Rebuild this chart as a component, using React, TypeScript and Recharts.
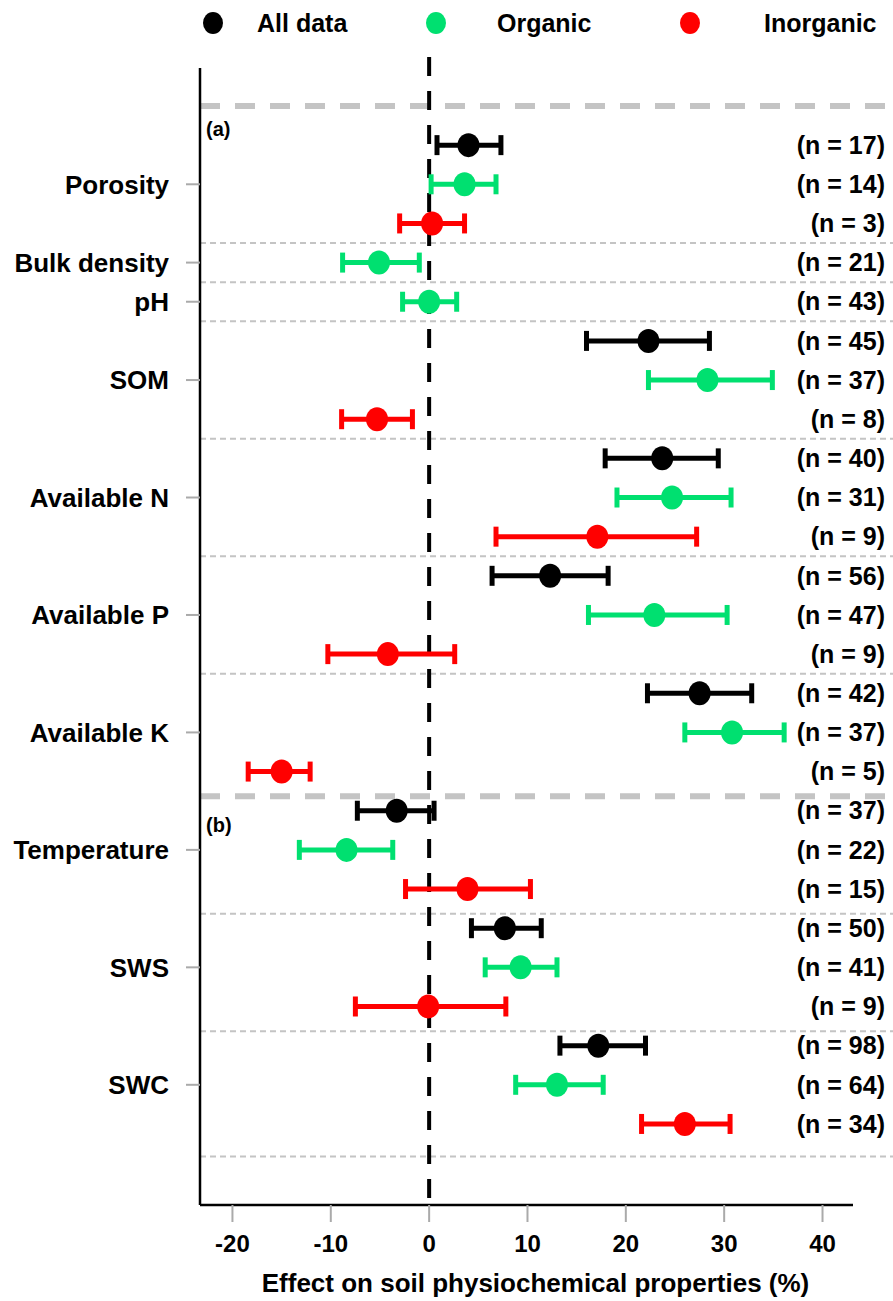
import {
  ErrorBar,
  Legend,
  ReferenceLine,
  Scatter,
  ScatterChart,
  XAxis,
  YAxis,
} from "recharts";

const properties = [
  "Porosity",
  "Bulk density",
  "pH",
  "SOM",
  "Available N",
  "Available P",
  "Available K",
  "Temperature",
  "SWS",
  "SWC",
];

// mean effect (%) with lower / upper CI, null where a group has no data
const allMean = [4.0, null, null, 22.3, 23.7, 12.3, 27.5, -3.3, 7.7, 17.2];
const allLow = [0.8, null, null, 16.0, 17.9, 6.4, 22.2, -7.3, 4.3, 13.3];
const allHigh = [7.3, null, null, 28.5, 29.4, 18.2, 32.8, 0.5, 11.4, 22.0];
const allN = [17, null, null, 45, 40, 56, 42, 37, 50, 98];

const orgMean = [3.6, -5.1, 0.0, 28.3, 24.7, 22.9, 30.8, -8.4, 9.3, 13.0];
const orgLow = [0.2, -8.8, -2.7, 22.3, 19.1, 16.2, 26.0, -13.2, 5.7, 8.8];
const orgHigh = [6.8, -1.0, 2.8, 34.9, 30.7, 30.3, 36.1, -3.7, 13.0, 17.7];
const orgN = [14, 21, 43, 37, 31, 47, 37, 22, 41, 64];

const inoMean = [0.3, null, null, -5.3, 17.1, -4.2, -15.0, 3.9, -0.1, 26.0];
const inoLow = [-3.0, null, null, -8.9, 6.8, -10.3, -18.4, -2.4, -7.5, 21.6];
const inoHigh = [3.6, null, null, -1.7, 27.2, 2.6, -12.1, 10.3, 7.8, 30.6];
const inoN = [3, null, null, 8, 9, 9, 5, 15, 9, 34];

const xTicks = [-20, -10, 0, 10, 20, 30, 40];

const series = [
  { name: "All data", color: "#000000", mean: allMean, low: allLow, high: allHigh, n: allN },
  { name: "Organic", color: "#00E070", mean: orgMean, low: orgLow, high: orgHigh, n: orgN },
  { name: "Inorganic", color: "#FF0000", mean: inoMean, low: inoLow, high: inoHigh, n: inoN },
];

type Point = { row: number; mean: number; err: [number, number]; n: number };

// one row per (property, group), groups in legend order
const points: Point[][] = series.map(() => []);
const groupMid: number[] = [];
const groupEnd: number[] = [];
let row = 0;
properties.forEach((_, i) => {
  const start = row;
  series.forEach((s, k) => {
    const m = s.mean[i];
    if (m === null) return;
    points[k].push({
      row,
      mean: m,
      err: [m - (s.low[i] as number), (s.high[i] as number) - m],
      n: s.n[i] as number,
    });
    row += 1;
  });
  groupMid.push((start + row - 1) / 2);
  groupEnd.push(row - 0.5);
});

const FONT = "'Liberation Sans', Arial, sans-serif";
const X_MIN = -23.3;
const X_MAX = 43.1;
const X_EDGE = 47.2; // separators run past the axis to the image edge
const PANEL_B = 6; // separator after "Available K" starts panel (b)

const legendPos = [
  { dot: 213, text: 257 },
  { dot: 436, text: 497 },
  { dot: 690, text: 764 },
];

const LegendContent = () => (
  <svg width={893} height={48} style={{ display: "block" }}>
    {series.map((s, i) => (
      <g key={s.name}>
        <ellipse cx={legendPos[i].dot} cy={23} rx={10} ry={11} fill={s.color} />
        <text
          x={legendPos[i].text}
          y={23}
          dy="0.35em"
          fontFamily={FONT}
          fontWeight={700}
          fontSize={25}
          fill="#000"
        >
          {s.name}
        </text>
      </g>
    ))}
  </svg>
);

const panelLabel = (txt: string, dy: number) => (props: any) => {
  const vb = props.viewBox || {};
  return (
    <text
      x={(vb.x ?? 200) + 6}
      y={(vb.y ?? 0) + dy}
      fontFamily={FONT}
      fontWeight={700}
      fontSize={20}
      fill="#000"
    >
      {txt}
    </text>
  );
};

const makeShape = (color: string) => (p: any) => (
  <g>
    <ellipse cx={p.cx} cy={p.cy} rx={11} ry={12} fill={color} />
    <text
      x={885}
      y={p.cy}
      dy="0.35em"
      textAnchor="end"
      fontFamily={FONT}
      fontWeight={700}
      fontSize={25}
      fill="#000"
    >
      {`(n = ${p.payload.n})`}
    </text>
  </g>
);

const App = () => {
  return (
    <div style={{ position: "absolute", left: 0, top: 0, fontFamily: FONT }}>
      <ScatterChart
        width={893}
        height={1301}
        margin={{ top: 20, right: 40, bottom: 0, left: 0 }}
      >
        <Legend
          verticalAlign="top"
          wrapperStyle={{ top: 0, left: 0 }}
          content={<LegendContent />}
        />
        <XAxis
          type="number"
          dataKey="mean"
          domain={[X_MIN, X_MAX]}
          ticks={xTicks}
          height={96}
          tickSize={17}
          tickMargin={13}
          tickLine={{ stroke: "#aaaaaa", strokeWidth: 2 }}
          axisLine={{ stroke: "#000", strokeWidth: 2.5 }}
          tick={{ fill: "#000", fontSize: 24, fontWeight: 700, fontFamily: FONT }}
          label={{
            value: "Effect on soil physiochemical properties (%)",
            position: "insideBottom",
            offset: 9,
            dx: 9,
            fill: "#000",
            fontSize: 26,
            fontWeight: 700,
            fontFamily: FONT,
          }}
        />
        <YAxis
          type="number"
          dataKey="row"
          reversed
          domain={[-1.97, 27.07]}
          ticks={groupMid}
          tickFormatter={(v: number) => properties[groupMid.indexOf(v)] ?? ""}
          width={200}
          tickSize={14}
          tickMargin={17}
          tickLine={{ stroke: "#aaaaaa", strokeWidth: 2 }}
          axisLine={{ stroke: "#000", strokeWidth: 2.5 }}
          tick={{ fill: "#000", fontSize: 26, fontWeight: 700, fontFamily: FONT }}
        />

        <ReferenceLine
          segment={[
            { x: X_MIN, y: -1 },
            { x: X_EDGE, y: -1 },
          ]}
          ifOverflow="visible"
          stroke="#c4c4c4"
          strokeWidth={6}
          strokeDasharray="20 15"
          label={panelLabel("(a)", 30)}
        />
        {groupEnd.map((g, i) => {
          const thick = i === PANEL_B;
          const last = i === groupEnd.length - 1;
          const y = last ? g + 0.33 : i >= PANEL_B ? g + 0.13 : g;
          return (
            <ReferenceLine
              key={`sep-${i}`}
              segment={[
                { x: X_MIN, y },
                { x: X_EDGE, y },
              ]}
              ifOverflow="visible"
              stroke="#c4c4c4"
              strokeWidth={thick ? 6 : 2}
              strokeDasharray={thick ? "20 15" : "6 4"}
              label={thick ? panelLabel("(b)", 36) : undefined}
            />
          );
        })}
        <ReferenceLine
          segment={[
            { x: 0, y: -2.25 },
            { x: 0, y: 27.07 },
          ]}
          ifOverflow="visible"
          stroke="#000"
          strokeWidth={4}
          strokeDasharray="19 15"
        />

        {series.map((s, k) => (
          <Scatter
            key={s.name}
            name={s.name}
            data={points[k]}
            fill={s.color}
            isAnimationActive={false}
            shape={makeShape(s.color)}
          >
            <ErrorBar
              dataKey="err"
              direction="x"
              width={10}
              strokeWidth={5}
              stroke={s.color}
              isAnimationActive={false}
            />
          </Scatter>
        ))}
      </ScatterChart>
    </div>
  );
};

export default App;
